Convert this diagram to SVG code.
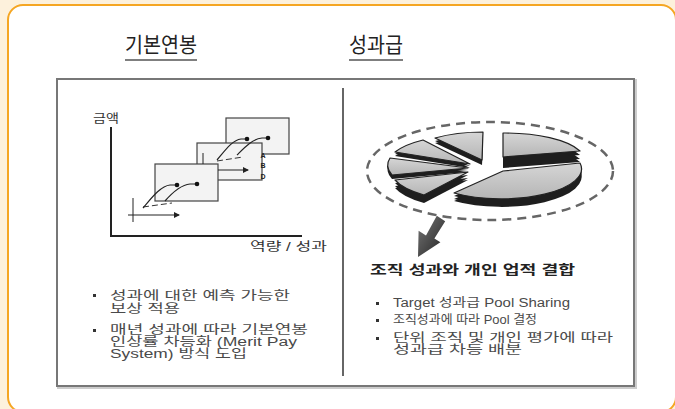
<svg xmlns="http://www.w3.org/2000/svg" xmlns:xlink="http://www.w3.org/1999/xlink" width="675" height="409" viewBox="0 0 675 409">
<style>
.kr{font-family:"Liberation Sans","Noto Sans CJK KR",sans-serif}
.title{font-size:21px;fill:#222;font-family:"Noto Sans CJK KR",sans-serif}
.ul{stroke:#555;stroke-width:1.5}
.body{font-size:12.5px;fill:#4a4a4a}
.small{font-size:12px;fill:#333}
.bul{fill:#333}
.box{fill:#f3f3f3;stroke:#444;stroke-width:1.2}
.crv{fill:none;stroke:#222;stroke-width:1.2}
.dash{fill:none;stroke:#333;stroke-width:1;stroke-dasharray:6 3}
.dot{fill:#111}
.top{fill:url(#pg);stroke:#222;stroke-width:1.2;stroke-linejoin:round}
.side{fill:#1e1e1e}
</style>
<defs>
<linearGradient id="pg" x1="0" y1="0" x2="0" y2="1">
<stop offset="0" stop-color="#d6d6d6"/><stop offset="1" stop-color="#b5b5b5"/>
</linearGradient>
<linearGradient id="ag" x1="0" y1="0" x2="1" y2="1">
<stop offset="0" stop-color="#777"/><stop offset="1" stop-color="#222"/>
</linearGradient>
<marker id="ah" markerWidth="6" markerHeight="6" refX="5" refY="3" orient="auto" markerUnits="userSpaceOnUse">
<path d="M0,0 L6,3 L0,6 Z" fill="#222"/>
</marker>
<path id="s1" d="M503,171 L580,163 A 80 30 0 0 1 454,193 Z"/>
<path id="s2" d="M503,157 L503,133 A 80 28 0 0 1 580,151 Z"/>
<path id="s3" d="M482,160 L435,138 A 80 30 0 0 1 483,132 Z"/>
<path id="s4" d="M470,164 L395,152 A 80 30 0 0 1 423,140 Z"/>
<path id="s5" d="M468,168 L392,175 A 80 30 0 0 1 390,158 Z"/>
<path id="s6" d="M468,172 L424,195 A 80 30 0 0 1 395,180 Z"/>
</defs>
<rect width="675" height="409" fill="#fdf1dc"/>
<g id="frame">
<rect x="8" y="5" width="668" height="407" rx="15" fill="#fff" stroke="#f5a623" stroke-width="2"/>
</g>
<g id="title-left">
<text class="title" x="161" y="52" text-anchor="middle" textLength="72" lengthAdjust="spacingAndGlyphs">기본연봉</text>
<line class="ul" x1="125" y1="60" x2="197" y2="60"/>
</g>
<g id="title-right">
<text class="title" x="376" y="52" text-anchor="middle" textLength="54" lengthAdjust="spacingAndGlyphs">성과급</text>
<line class="ul" x1="349" y1="60" x2="403" y2="60"/>
</g>
<g id="panel">
<rect x="58" y="80" width="578" height="308" fill="none" stroke="#ccc" stroke-width="2"/>
<rect x="57" y="79" width="577" height="307" fill="#fff" stroke="#777" stroke-width="2"/>
<line x1="343" y1="88" x2="343" y2="376" stroke="#666" stroke-width="2"/>
</g>
<g id="chart">
<text class="kr small" x="93" y="123" textLength="26" lengthAdjust="spacingAndGlyphs">금액</text>
<polyline points="111,127 111,236 302,236" fill="none" stroke="#222" stroke-width="2"/>
<text class="kr small" x="250" y="251" textLength="77" lengthAdjust="spacingAndGlyphs">역량 / 성과</text>
<rect class="box" x="226" y="118" width="63" height="36"/>
<rect class="box" x="197" y="143" width="65" height="37"/>
<rect class="box" x="155" y="164" width="63" height="37"/>
<line x1="133" y1="198" x2="133" y2="222" stroke="#222" stroke-width="1"/>
<line x1="128" y1="215" x2="179" y2="215" stroke="#222" stroke-width="1" marker-end="url(#ah)"/>
<line x1="203" y1="153" x2="203" y2="164" stroke="#222" stroke-width="1"/>
<line x1="218" y1="170" x2="248" y2="170" stroke="#222" stroke-width="1" marker-end="url(#ah)"/>
<path class="dash" d="M143,207 L172,203"/>
<path class="dash" d="M217,161 L243,157"/>
<path class="crv" d="M143,208 C150,200 160,186 170,185 L177,185"/>
<path class="crv" d="M165,201 C172,193 180,185 190,184 L197,184"/>
<path class="crv" d="M217,160 C224,152 232,140 241,139 L247,139"/>
<path class="crv" d="M237,155 C244,148 252,139 262,138 L268,138"/>
<circle class="dot" cx="177" cy="185" r="2.3"/>
<circle class="dot" cx="197" cy="184" r="2.3"/>
<circle class="dot" cx="247" cy="139" r="2.3"/>
<circle class="dot" cx="268" cy="138" r="2.3"/>
<g font-family="Liberation Sans,sans-serif" font-size="7" font-weight="bold" fill="#222" text-anchor="middle">
<text x="263" y="158">A</text><text x="263" y="168">B</text><text x="263" y="179">D</text>
</g>
</g>
<g id="left-text" class="kr body">
<rect class="bul" x="93" y="294" width="3" height="3"/>
<text x="110" y="300" textLength="180" lengthAdjust="spacingAndGlyphs">성과에 대한 예측 가능한</text>
<text x="110" y="313" textLength="70" lengthAdjust="spacingAndGlyphs">보상 적용</text>
<rect class="bul" x="93" y="329" width="3" height="3"/>
<text x="110" y="334" textLength="198" lengthAdjust="spacingAndGlyphs">매년 성과에 따라 기본연봉</text>
<text x="110" y="346" textLength="187" lengthAdjust="spacingAndGlyphs">인상률 차등화 (Merit Pay</text>
<text x="110" y="358" textLength="137" lengthAdjust="spacingAndGlyphs">System) 방식 도입</text>
</g>
<g id="pie">
<ellipse cx="490" cy="171" rx="123" ry="49" fill="none" stroke="#666" stroke-width="2.5" stroke-dasharray="9 6"/>
<g class="side">
<use xlink:href="#s6" y="3"/><use xlink:href="#s6" y="6"/><use xlink:href="#s6" y="8"/>
<use xlink:href="#s1" y="3"/><use xlink:href="#s1" y="6"/><use xlink:href="#s1" y="8"/>
<use xlink:href="#s5" y="2"/><use xlink:href="#s5" y="4"/>
<use xlink:href="#s4" y="2"/><use xlink:href="#s4" y="4"/>
<use xlink:href="#s3" y="3"/><use xlink:href="#s3" y="5"/>
<use xlink:href="#s2" y="4"/><use xlink:href="#s2" y="8"/><use xlink:href="#s2" y="11"/>
</g>
<use class="top" xlink:href="#s6"/>
<use class="top" xlink:href="#s5"/>
<use class="top" xlink:href="#s4"/>
<use class="top" xlink:href="#s3"/>
<use class="top" xlink:href="#s1"/>
<use class="top" xlink:href="#s2"/>
</g>
<g id="connectors">
<polygon points="436.8,215.8 445.2,221.2 434.4,238.4 440.4,242.2 418,257 418.6,230.8 426,235.6" fill="url(#ag)"/>
</g>
<g id="right-text">
<text class="kr" x="370" y="274" font-size="13" font-weight="bold" fill="#222" textLength="205" lengthAdjust="spacingAndGlyphs">조직 성과와 개인 업적 결합</text>
<g class="kr body">
<rect class="bul" x="376" y="302" width="3" height="3"/>
<text x="393" y="307" textLength="177" lengthAdjust="spacingAndGlyphs">Target 성과급 Pool Sharing</text>
<rect class="bul" x="376" y="319" width="3" height="3"/>
<text x="393" y="324" textLength="144" lengthAdjust="spacingAndGlyphs">조직성과에 따라 Pool 결정</text>
<rect class="bul" x="376" y="337" width="3" height="3"/>
<text x="393" y="342" textLength="220" lengthAdjust="spacingAndGlyphs">단위 조직 및 개인 평가에 따라</text>
<text x="393" y="354" textLength="129" lengthAdjust="spacingAndGlyphs">성과급 차등 배분</text>
</g>
</g>
</svg>
